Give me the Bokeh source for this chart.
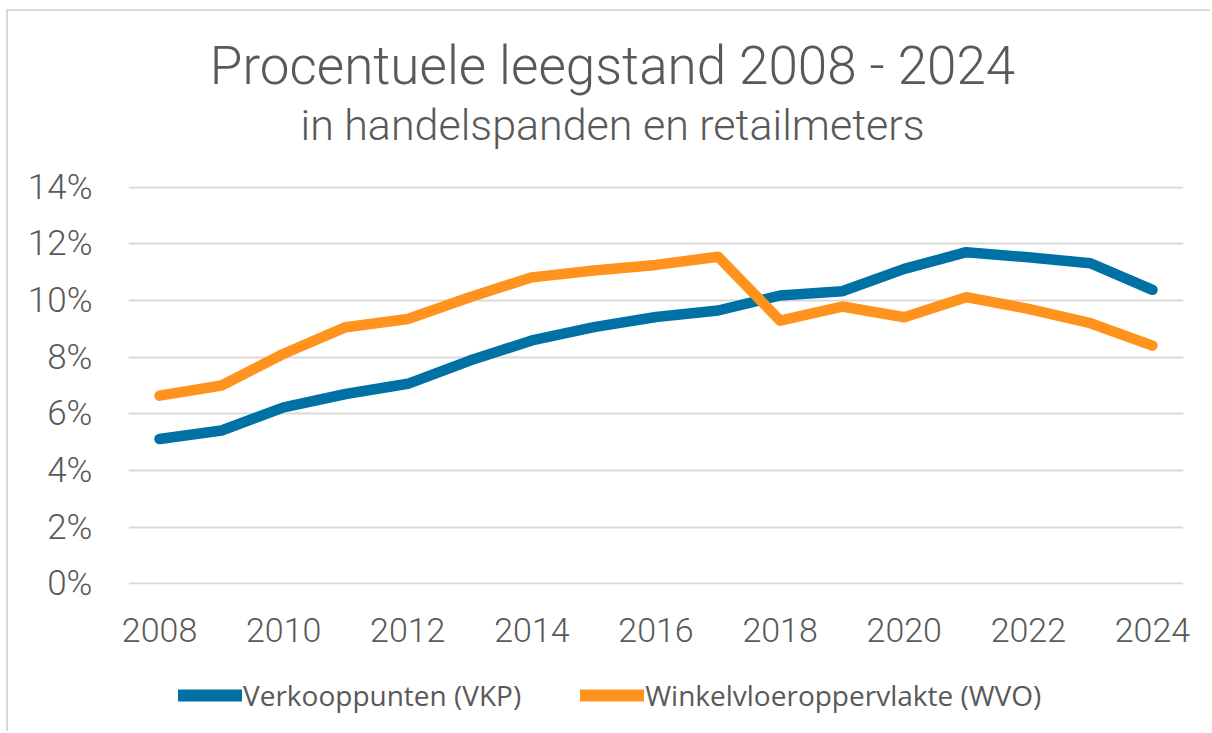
from bokeh.plotting import figure
from bokeh.models import Range1d, FixedTicker, Label, Legend, LegendItem
from bokeh.layouts import column
from bokeh.embed import file_html
from bokeh.resources import INLINE

# ---- data ----
years = list(range(2008, 2025))
vkp = [5.11, 5.41, 6.23, 6.70, 7.06, 7.88, 8.59, 9.06, 9.42, 9.65, 10.18, 10.33, 11.12, 11.71, 11.53, 11.32, 10.38]
wvo = [6.64, 7.00, 8.12, 9.06, 9.35, 10.12, 10.82, 11.06, 11.26, 11.55, 9.29, 9.79, 9.41, 10.12, 9.71, 9.20, 8.41]
series_names = ["Verkooppunten (VKP)", "Winkelvloeroppervlakte (WVO)"]
x_ticks = [2008, 2010, 2012, 2014, 2016, 2018, 2020, 2022, 2024]
y_ticks = [0, 2, 4, 6, 8, 10, 12, 14]
y_tick_labels = ["0%", "2%", "4%", "6%", "8%", "10%", "12%", "14%"]
title_text = "Procentuele leegstand 2008 - 2024"
subtitle_text = "in handelspanden en retailmeters"

THIN = "Roboto Light, Roboto"
TXT = "#595959"
BLUE = "#0071a4"
ORANGE = "#ff931e"
W = 1202


def bare(height):
    f = figure(width=W, height=height, output_backend="svg", toolbar_location=None,
               x_axis_location=None, y_axis_location=None, title=None,
               x_range=Range1d(0, 1), y_range=Range1d(0, 1),
               min_border_left=0, min_border_right=0, min_border_top=0, min_border_bottom=0)
    f.grid.visible = False
    f.outline_line_color = None
    f.background_fill_color = "white"
    f.border_fill_color = "white"
    return f


# ---- title block ----
tf = bare(150)
tf.add_layout(Label(x=484, y=96, x_units="screen", y_units="screen", text=title_text,
                    text_align="center", text_baseline="alphabetic", text_font=THIN,
                    text_font_size="53px", text_color=TXT))
tf.add_layout(Label(x=484, y=37, x_units="screen", y_units="screen", text=subtitle_text,
                    text_align="center", text_baseline="alphabetic", text_font=THIN,
                    text_font_size="43px", text_color=TXT))

# ---- main chart ----
p = figure(width=W, height=500, output_backend="svg", toolbar_location=None, title=None,
           x_range=Range1d(2007.5, 2024.5), y_range=Range1d(-0.03, 14.03),
           min_border_left=120, min_border_right=27, min_border_top=25, min_border_bottom=77)
p.background_fill_color = "white"
p.border_fill_color = "white"
p.outline_line_color = None

p.xaxis.ticker = FixedTicker(ticks=x_ticks)
p.yaxis.ticker = FixedTicker(ticks=y_ticks)
p.yaxis.major_label_overrides = {t: l for t, l in zip(y_ticks, y_tick_labels)}
for ax in (p.xaxis[0], p.yaxis[0]):
    ax.axis_line_color = None
    ax.major_tick_line_color = None
    ax.minor_tick_line_color = None
    ax.major_tick_out = 0
    ax.major_tick_in = 0
    ax.major_label_text_color = TXT
    ax.major_label_text_font = THIN
p.xaxis.major_label_text_font_size = "34px"
p.yaxis.major_label_text_font_size = "35px"
p.xaxis.major_label_standoff = 33
p.yaxis.major_label_standoff = 36

p.xgrid.grid_line_color = None
p.ygrid.grid_line_color = "#d9d9d9"
p.ygrid.grid_line_width = 2

p.line(years, vkp, line_color=BLUE, line_width=10.5, line_join="round", line_cap="round")
p.line(years, wvo, line_color=ORANGE, line_width=10.5, line_join="round", line_cap="round")

# ---- legend block (series drawn outside this strip's view; only their legend swatches show) ----
lf = bare(70)
s1 = lf.line(years, vkp, line_color=BLUE, line_width=12, line_cap="round")
s2 = lf.line(years, wvo, line_color=ORANGE, line_width=12, line_cap="round")
legend = Legend(items=[LegendItem(label=series_names[0], renderers=[s1]),
                       LegendItem(label=series_names[1], renderers=[s2])],
                orientation="horizontal", location=(50, 17),
                glyph_width=64, glyph_height=30, label_height=30, label_standoff=1,
                spacing=59, padding=0, margin=0,
                label_text_font="Open Sans", label_text_font_size="28px", label_text_color=TXT,
                border_line_color=None, background_fill_alpha=0)
lf.add_layout(legend, "center")

layout = column(tf, p, lf, spacing=0,
                styles={"margin-left": "6px", "margin-top": "9px",
                        "border-left": "2px solid #d9d9d9", "border-top": "2px solid #d9d9d9"})

open("out.html", "w").write(file_html(layout, INLINE))
